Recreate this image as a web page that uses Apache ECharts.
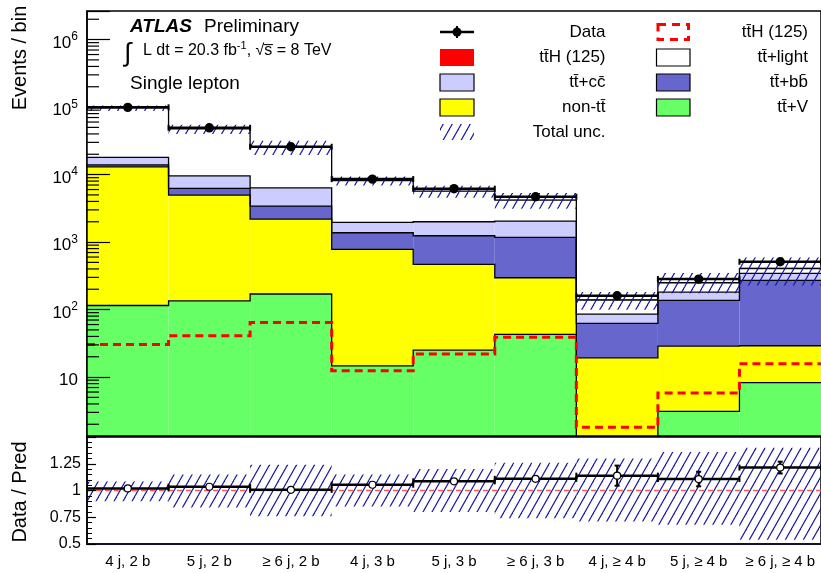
<!DOCTYPE html>
<html>
<head>
<meta charset="utf-8">
<script src="https://cdn.jsdelivr.net/npm/echarts@6/dist/echarts.min.js"></script>
<style>
html, body { margin: 0; padding: 0; background: #fff; }
#chart { width: 821px; height: 573px; }
</style>
</head>
<body>
<div id="chart"></div>
<script>
// Analysis regions (jet / b-tag multiplicity)
const categories = ['4 j, 2 b', '5 j, 2 b', '\u2265 6 j, 2 b', '4 j, 3 b', '5 j, 3 b',
  '\u2265 6 j, 3 b', '4 j, \u2265 4 b', '5 j, \u2265 4 b', '\u2265 6 j, \u2265 4 b'];

// Expected events per region, one array per process (stacked bottom to top)
const ttV     = [115, 135, 170, 14.7, 25, 43, 1.1, 3.1, 8.3];
const nonTT   = [12900, 4830, 2020, 765, 443, 253, 18.2, 25.7, 20.8];
const ttbb    = [900, 1280, 1220, 595, 772, 879, 43.2, 108, 242];
const ttcc    = [4030, 3350, 2960, 585, 760, 875, 23.2, 44, 72];
const ttLight = [79100, 38000, 19200, 6160, 3670, 2140, 53, 69, 62];
const ttH     = [30.5, 41, 64.5, 12.4, 22, 39, 1.8, 5.8, 15.7];

// Observed events and the statistical error on Data / Pred
const data     = [99000, 49300, 25800, 8570, 6180, 4690, 160, 283, 511];
const ratioErr = [0.004, 0.005, 0.007, 0.012, 0.014, 0.016, 0.094, 0.068, 0.055];

// Relative total uncertainty on the prediction (up / down)
const uncUp   = [0.085, 0.15, 0.24, 0.15, 0.20, 0.26, 0.30, 0.36, 0.40];
const uncDown = [0.10, 0.16, 0.24, 0.15, 0.20, 0.26, 0.29, 0.32, 0.46];

// Labelled ticks
const mainTickValues  = [10, 100, 1000, 10000, 100000, 1000000];
const ratioTickValues = [0.5, 0.75, 1, 1.25];

const FONT = "'Liberation Sans', Arial, Helvetica, sans-serif";
const FLOOR = 0.01;
const TBAR = 't\u0304';

const components = [
  { name: 't' + TBAR + '+V', values: ttV, color: '#66ff66', outline: true },
  { name: 'non-t' + TBAR, values: nonTT, color: '#ffff00', outline: true },
  { name: 't' + TBAR + '+bb\u0304', values: ttbb, color: '#6666cc', outline: true },
  { name: 't' + TBAR + '+cc\u0304', values: ttcc, color: '#ccccff', outline: true },
  { name: 't' + TBAR + '+light', values: ttLight, color: '#ffffff', outline: true },
  { name: 't' + TBAR + 'H (125)', values: ttH, color: '#ff0000', outline: false }
];

// Stack boundaries for each process
const cumulative = [];
let running = categories.map(() => 0);
components.forEach(c => {
  const lo = running;
  const hi = lo.map((v, i) => v + c.values[i]);
  cumulative.push({ lo, hi });
  running = hi;
});
const prediction = running;
const ratio = data.map((d, i) => d / prediction[i]);

// Diagonal hatching used for the uncertainty band
function makeHatch() {
  const c = document.createElement('canvas');
  c.width = 9; c.height = 16;
  const g = c.getContext('2d');
  g.strokeStyle = '#1616a6';
  g.lineWidth = 1.15;
  g.beginPath(); g.moveTo(-9, 32); g.lineTo(9, 0); g.stroke();
  g.beginPath(); g.moveTo(0, 32); g.lineTo(18, 0); g.stroke();
  g.beginPath(); g.moveTo(-9, 16); g.lineTo(0, 0); g.stroke();
  return c;
}
const hatchFill = { image: makeHatch(), repeat: 'repeat' };

function bandWidth(api) {
  return api.coord([1, 1])[0] - api.coord([0, 1])[0];
}
const perBin = categories.map((c, i) => [i]);

function logLabel(v) {
  const e = Math.round(Math.log10(v));
  if (!mainTickValues.some(t => Math.abs(t - v) / t < 1e-6)) return '';
  return e === 1 ? '{b|10}' : '{b|10}{s|' + e + '}';
}

// Stacked process fills
const stackSeries = components.map((comp, k) => ({
  type: 'custom', name: comp.name, xAxisIndex: 0, yAxisIndex: 0, z: 2, clip: true,
  data: perBin,
  renderItem: (params, api) => {
    const i = api.value(0);
    const w = bandWidth(api);
    const top = api.coord([i, Math.max(cumulative[k].hi[i], FLOOR)]);
    const bot = api.coord([i, Math.max(cumulative[k].lo[i], FLOOR)]);
    return {
      type: 'rect',
      shape: { x: top[0] - w / 2, y: top[1], width: w, height: bot[1] - top[1] },
      style: { fill: comp.color }
    };
  }
}));

// Black step outlines along the top of each process
const outlineSeries = {
  type: 'custom', xAxisIndex: 0, yAxisIndex: 0, z: 3, clip: true, data: [[0]],
  renderItem: (params, api) => {
    const w = bandWidth(api);
    const children = [];
    cumulative.forEach((lvl, k) => {
      if (!components[k].outline) return;
      const pts = [];
      categories.forEach((c, i) => {
        const p = api.coord([i, Math.max(lvl.hi[i], FLOOR)]);
        pts.push([p[0] - w / 2, p[1]], [p[0] + w / 2, p[1]]);
      });
      children.push({ type: 'polyline', shape: { points: pts },
        style: { stroke: '#000', lineWidth: 1.3, fill: 'none' } });
    });
    return { type: 'group', children };
  }
};

// Signal overlay (dashed, not stacked)
const signalSeries = {
  type: 'custom', xAxisIndex: 0, yAxisIndex: 0, z: 4, clip: true, data: [[0]],
  renderItem: (params, api) => {
    const w = bandWidth(api);
    const pts = [];
    categories.forEach((c, i) => {
      const p = api.coord([i, ttH[i]]);
      pts.push([p[0] - w / 2, p[1]], [p[0] + w / 2, p[1]]);
    });
    return { type: 'polyline', shape: { points: pts },
      style: { stroke: '#ff0000', lineWidth: 3, lineDash: [8, 5], fill: 'none' } };
  }
};

// Hatched total uncertainty around the prediction
const bandSeries = {
  type: 'custom', xAxisIndex: 0, yAxisIndex: 0, z: 5, clip: true, data: perBin,
  renderItem: (params, api) => {
    const i = api.value(0);
    const w = bandWidth(api);
    const hi = api.coord([i, prediction[i] * (1 + uncUp[i])]);
    const lo = api.coord([i, prediction[i] * (1 - uncDown[i])]);
    return { type: 'rect', shape: { x: hi[0] - w / 2, y: hi[1], width: w, height: lo[1] - hi[1] },
      style: { fill: hatchFill } };
  }
};

// Data points with bin-width bars
const dataSeries = {
  type: 'custom', xAxisIndex: 0, yAxisIndex: 0, z: 6, clip: true, data: perBin,
  renderItem: (params, api) => {
    const i = api.value(0);
    const w = bandWidth(api);
    const p = api.coord([i, data[i]]);
    const x0 = p[0] - w / 2, x1 = p[0] + w / 2;
    return { type: 'group', children: [
      { type: 'line', shape: { x1: x0, y1: p[1], x2: x1, y2: p[1] }, style: { stroke: '#000', lineWidth: 2.5 } },
      { type: 'line', shape: { x1: x0, y1: p[1] - 3, x2: x0, y2: p[1] + 3 }, style: { stroke: '#000', lineWidth: 2 } },
      { type: 'line', shape: { x1: x1, y1: p[1] - 3, x2: x1, y2: p[1] + 3 }, style: { stroke: '#000', lineWidth: 2 } },
      { type: 'circle', shape: { cx: p[0], cy: p[1], r: 4.7 }, style: { fill: '#000' } }
    ] };
  }
};

// Log-axis minor ticks at 2..9 x 10^k
const minorTickSeries = {
  type: 'custom', xAxisIndex: 0, yAxisIndex: 0, z: 10, clip: true, data: [[0]],
  renderItem: (params, api) => {
    const w = bandWidth(api);
    const x0 = api.coord([0, 1])[0] - w / 2;
    const children = [];
    for (let k = 0; k <= 6; k++) {
      for (let m = 2; m <= 9; m++) {
        const y = api.coord([0, m * Math.pow(10, k)])[1];
        children.push({ type: 'line', shape: { x1: x0, y1: y, x2: x0 + 12, y2: y },
          style: { stroke: '#000', lineWidth: 1.2 } });
      }
    }
    return { type: 'group', children };
  }
};

// Ratio panel: uncertainty band
const ratioBandSeries = {
  type: 'custom', xAxisIndex: 1, yAxisIndex: 1, z: 2, clip: true, data: perBin,
  renderItem: (params, api) => {
    const i = api.value(0);
    const w = bandWidth(api);
    const hi = api.coord([i, 1 + uncUp[i]]);
    const lo = api.coord([i, 1 - uncDown[i]]);
    return { type: 'rect', shape: { x: hi[0] - w / 2, y: hi[1], width: w, height: lo[1] - hi[1] },
      style: { fill: hatchFill } };
  }
};

// Ratio panel: reference line at unity
const unitySeries = {
  type: 'custom', xAxisIndex: 1, yAxisIndex: 1, z: 3, clip: true, data: [[0]],
  renderItem: (params, api) => {
    const w = bandWidth(api);
    const a = api.coord([0, 1]);
    const b = api.coord([categories.length - 1, 1]);
    return { type: 'line', shape: { x1: a[0] - w / 2, y1: a[1], x2: b[0] + w / 2, y2: b[1] },
      style: { stroke: '#ff5a5a', lineWidth: 1.5, lineDash: [5, 4] } };
  }
};

// Ratio panel: Data / Pred points
const ratioSeries = {
  type: 'custom', xAxisIndex: 1, yAxisIndex: 1, z: 4, clip: true, data: perBin,
  renderItem: (params, api) => {
    const i = api.value(0);
    const w = bandWidth(api);
    const p = api.coord([i, ratio[i]]);
    const eu = api.coord([i, ratio[i] + ratioErr[i]])[1];
    const ed = api.coord([i, ratio[i] - ratioErr[i]])[1];
    const x0 = p[0] - w / 2, x1 = p[0] + w / 2;
    return { type: 'group', children: [
      { type: 'line', shape: { x1: x0, y1: p[1], x2: x1, y2: p[1] }, style: { stroke: '#000', lineWidth: 2.5 } },
      { type: 'line', shape: { x1: x0, y1: p[1] - 3, x2: x0, y2: p[1] + 3 }, style: { stroke: '#000', lineWidth: 2 } },
      { type: 'line', shape: { x1: x1, y1: p[1] - 3, x2: x1, y2: p[1] + 3 }, style: { stroke: '#000', lineWidth: 2 } },
      { type: 'line', shape: { x1: p[0], y1: eu, x2: p[0], y2: ed }, style: { stroke: '#000', lineWidth: 2 } },
      { type: 'line', shape: { x1: p[0] - 2.5, y1: eu, x2: p[0] + 2.5, y2: eu }, style: { stroke: '#000', lineWidth: 2 } },
      { type: 'line', shape: { x1: p[0] - 2.5, y1: ed, x2: p[0] + 2.5, y2: ed }, style: { stroke: '#000', lineWidth: 2 } },
      { type: 'circle', shape: { cx: p[0], cy: p[1], r: 3.5 }, style: { fill: '#fff', stroke: '#000', lineWidth: 1.2 } }
    ] };
  }
};

// Header texts and legend
const txt = (x, y, text, size, extra) => Object.assign({
  type: 'text', x, y, z: 20,
  style: Object.assign({ text, fontSize: size, fontFamily: FONT, fill: '#000', verticalAlign: 'middle', align: 'left' }, extra || {})
});

const legendLeft = [
  { y: 32, label: 'Data', kind: 'data' },
  { y: 57.5, label: 't' + TBAR + 'H (125)', kind: 'box', fill: '#ff0000', stroke: null },
  { y: 82.5, label: 't' + TBAR + '+cc\u0304', kind: 'box', fill: '#ccccff', stroke: '#000' },
  { y: 107.5, label: 'non-t' + TBAR, kind: 'box', fill: '#ffff00', stroke: '#000' },
  { y: 132, label: 'Total unc.', kind: 'hatch' }
];
const legendRight = [
  { y: 32, label: 't' + TBAR + 'H (125)', kind: 'dashed' },
  { y: 57.5, label: 't' + TBAR + '+light', kind: 'box', fill: '#ffffff', stroke: '#000' },
  { y: 82.5, label: 't' + TBAR + '+bb\u0304', kind: 'box', fill: '#6666cc', stroke: '#000' },
  { y: 107.5, label: 't' + TBAR + '+V', kind: 'box', fill: '#66ff66', stroke: '#000' }
];

function legendEntry(item, x0, x1, labelRight) {
  const els = [];
  const h = 17;
  if (item.kind === 'data') {
    const cx = (x0 + x1) / 2;
    els.push({ type: 'line', z: 20, shape: { x1: x0, y1: item.y, x2: x1, y2: item.y }, style: { stroke: '#000', lineWidth: 2.5 } });
    els.push({ type: 'line', z: 20, shape: { x1: cx, y1: item.y - 6, x2: cx, y2: item.y + 6 }, style: { stroke: '#000', lineWidth: 2 } });
    els.push({ type: 'circle', z: 20, shape: { cx, cy: item.y, r: 4.5 }, style: { fill: '#000' } });
  } else if (item.kind === 'box') {
    els.push({ type: 'rect', z: 20, shape: { x: x0, y: item.y - h / 2, width: x1 - x0, height: h },
      style: { fill: item.fill, stroke: item.stroke || null, lineWidth: 1.2 } });
  } else if (item.kind === 'hatch') {
    els.push({ type: 'rect', z: 20, shape: { x: x0, y: item.y - 8, width: x1 - x0, height: 16 }, style: { fill: hatchFill } });
  } else if (item.kind === 'dashed') {
    els.push({ type: 'rect', z: 20, shape: { x: x0 + 1.5, y: item.y - h / 2 + 1, width: x1 - x0 - 3, height: h - 2 },
      style: { fill: 'none', stroke: '#ff0000', lineWidth: 3, lineDash: [8, 6] } });
  }
  els.push(txt(labelRight, item.y, item.label, 17, { align: 'right' }));
  return els;
}

const graphics = [
  txt(130, 27, 'ATLAS', 19, { fontStyle: 'italic', fontWeight: 'bold' }),
  txt(204, 27, 'Preliminary', 19),
  txt(124, 54, '\u222B', 26),
  {
    type: 'text', x: 143, y: 51, z: 20,
    style: {
      text: '{t|L dt = 20.3 fb}{s|-1}{t|, \u221As\u0305 = 8 TeV}',
      verticalAlign: 'middle', align: 'left',
      rich: {
        t: { fontSize: 16, fontFamily: FONT, fill: '#000', lineHeight: 22 },
        s: { fontSize: 11, fontFamily: FONT, fill: '#000', lineHeight: 10, verticalAlign: 'top' }
      }
    }
  },
  txt(130, 83.5, 'Single lepton', 19),
  txt(20, 58, 'Events / bin', 20, { align: 'center' }),
  txt(20, 492, 'Data / Pred', 20, { align: 'center' })
];
graphics[5].rotation = Math.PI / 2;
graphics[6].rotation = Math.PI / 2;
legendLeft.forEach(it => graphics.push(...legendEntry(it, 440, 474, 605.5)));
legendRight.forEach(it => graphics.push(...legendEntry(it, 656.5, 690, 808)));

const chart = echarts.init(document.getElementById('chart'), null, { renderer: 'canvas' });
chart.setOption({
  animation: false,
  backgroundColor: '#fff',
  textStyle: { fontFamily: FONT, color: '#000' },
  grid: [
    { left: 87, top: 11, width: 736, height: 425, show: true, borderColor: '#000', borderWidth: 1.5 },
    { left: 87, top: 437, width: 736, height: 107, show: true, borderColor: '#000', borderWidth: 1.5 }
  ],
  xAxis: [
    {
      type: 'category', gridIndex: 0, data: categories, boundaryGap: true, z: 10,
      axisLine: { lineStyle: { color: '#000', width: 1.5 } },
      axisTick: { inside: true, length: 11, alignWithLabel: true, lineStyle: { color: '#000', width: 1.5 } },
      axisLabel: { show: false }, splitLine: { show: false }
    },
    {
      type: 'category', gridIndex: 1, data: categories, boundaryGap: true, z: 10,
      axisLine: { lineStyle: { color: '#10103a', width: 2 } },
      axisTick: { inside: true, length: 5, alignWithLabel: true, lineStyle: { color: '#000', width: 1.5 } },
      axisLabel: { interval: 0, fontSize: 15, margin: 10, color: '#000', fontFamily: FONT },
      splitLine: { show: false }
    }
  ],
  yAxis: [
    {
      type: 'log', gridIndex: 0, logBase: 10, min: 1.34, max: 2.65e6, z: 10,
      axisLine: { show: true, lineStyle: { color: '#000', width: 1.5 } },
      axisTick: { show: true, inside: true, length: 23, lineStyle: { color: '#000', width: 1.2 } },
      splitLine: { show: false }, minorTick: { show: false },
      axisLabel: {
        margin: 9, padding: [7, 0, 0, 0], formatter: logLabel,
        rich: {
          b: { fontSize: 17, lineHeight: 24, fontFamily: FONT, color: '#000' },
          s: { fontSize: 12, lineHeight: 10, fontFamily: FONT, color: '#000', verticalAlign: 'top' }
        }
      }
    },
    {
      type: 'value', gridIndex: 1, min: 0.5, max: 1.5, interval: 0.25, z: 10,
      axisLine: { show: true, lineStyle: { color: '#000', width: 1.5 } },
      axisTick: { show: true, inside: true, length: 9, lineStyle: { color: '#000', width: 1.2 } },
      minorTick: { show: true, splitNumber: 5, length: 5, lineStyle: { color: '#000', width: 1 } },
      splitLine: { show: false },
      axisLabel: {
        margin: 6, fontSize: 16, color: '#000', fontFamily: FONT,
        formatter: v => ratioTickValues.some(t => Math.abs(t - v) < 1e-9) ? String(v) : ''
      }
    }
  ],
  series: [
    ...stackSeries, outlineSeries, signalSeries, bandSeries, dataSeries, minorTickSeries,
    ratioBandSeries, unitySeries, ratioSeries
  ],
  graphic: graphics
});
</script>
</body>
</html>
